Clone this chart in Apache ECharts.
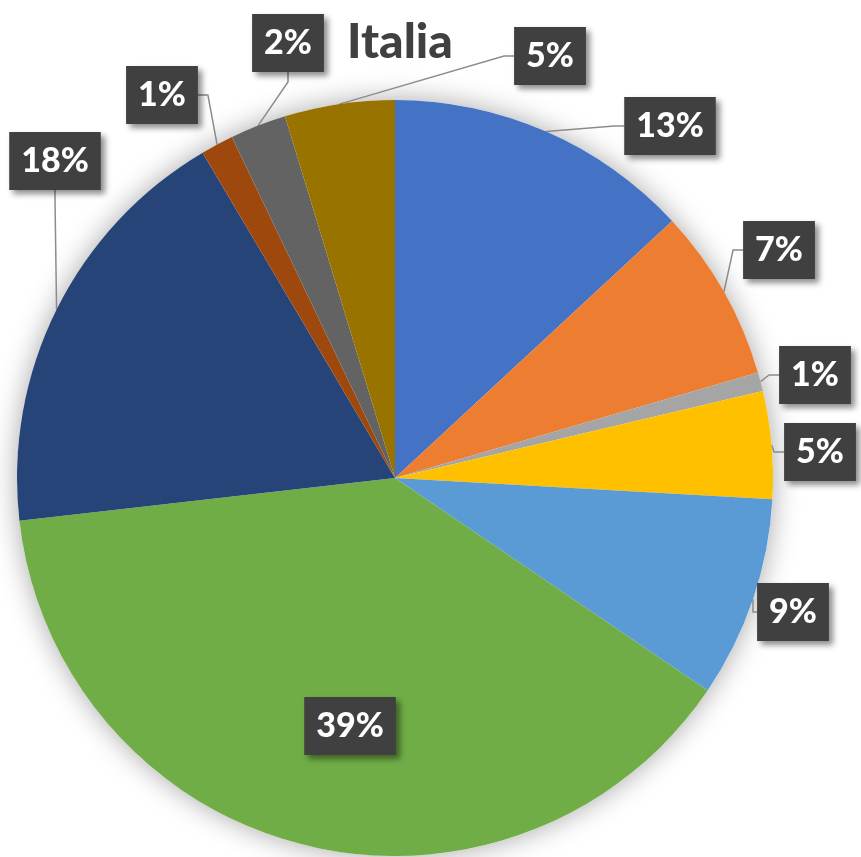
<!DOCTYPE html>
<html>
<head>
<meta charset="utf-8">
<script src="https://cdn.jsdelivr.net/npm/echarts@6/dist/echarts.min.js"></script>
<style>
  html, body { margin: 0; padding: 0; background: #fff; }
  #container { width: 861px; height: 857px; }
</style>
</head>
<body>
<div id="container"></div>
<script>
// slices, clockwise from 12 o'clock
let categories = ['Cat 1', 'Cat 2', 'Cat 3', 'Cat 4', 'Cat 5', 'Cat 6', 'Cat 7', 'Cat 8', 'Cat 9', 'Cat 10'];
let values = [13.1, 7.4, 0.8, 4.6, 8.6, 38.7, 18.3, 1.4, 2.4, 4.7];
let colors = ['#4472C4', '#ED7D31', '#A5A5A5', '#FFC000', '#5B9BD5', '#70AD47', '#264478', '#9E480E', '#636363', '#997300'];

// where each data label box sits (centre, px)
let labelPos = [
    [670, 126], [779, 250], [815, 375], [820, 452], [793, 612],
    [350, 726], [55, 161], [162, 95], [288, 43], [550, 56]
];

let dom = document.getElementById("container");
let myChart = echarts.init(dom);

let font = 'Lato, "Open Sans", sans-serif';

let option = {
    animation: false,
    title: {
        text: 'Italia',
        left: 395,
        top: 14,
        textAlign: 'center',
        textStyle: {
            fontFamily: font,
            fontSize: 48,
            fontWeight: 900,
            color: '#404040'
        }
    },
    series: [
        {
            // soft shadow behind the whole pie
            type: 'pie',
            silent: true,
            center: [395, 478],
            radius: 378,
            z: 1,
            label: { show: false },
            labelLine: { show: false },
            itemStyle: {
                color: '#fff',
                shadowBlur: 28,
                shadowColor: 'rgba(0,0,0,0.35)'
            },
            data: [{ value: 1, name: '' }]
        },
        {
            type: 'pie',
            center: [395, 478],
            radius: 378,
            z: 2,
            startAngle: 90,
            clockwise: true,
            percentPrecision: 0,
            avoidLabelOverlap: false,
            data: categories.map((c, i) => ({
                name: c,
                value: values[i],
                itemStyle: { color: colors[i] },
                labelLine: { show: i !== 5 }
            })),
            label: {
                show: true,
                position: 'outside',
                formatter: '{d}%',
                fontFamily: font,
                fontSize: 34,
                fontWeight: 900,
                color: '#fff',
                backgroundColor: '#404040',
                padding: [13, 12, 11, 12],
                shadowColor: 'rgba(0,0,0,0.45)',
                shadowBlur: 6,
                shadowOffsetX: 4,
                shadowOffsetY: 4
            },
            labelLine: {
                show: true,
                length: 10,
                length2: 10,
                lineStyle: { color: '#8c8c8c', width: 1.5 }
            },
            labelLayout: function (params) {
                let p = labelPos[params.dataIndex];
                return { x: p[0], y: p[1], align: 'center', verticalAlign: 'middle' };
            }
        }
    ]
};
myChart.setOption(option);
</script>
</body>
</html>
